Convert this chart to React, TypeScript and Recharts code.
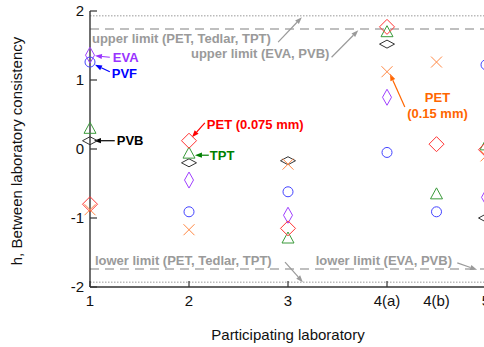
import {
  ComposedChart,
  ReferenceDot,
  ReferenceLine,
  Scatter,
  XAxis,
  YAxis,
} from "recharts";

const FONT = "'Liberation Sans', Arial, sans-serif";

// laboratories (4(a) and 4(b) share lab 4)
const LAB_TICKS = [1, 2, 3, 4, 4.5, 5];
const LAB_LABELS: Record<string, string> = {
  "1": "1",
  "2": "2",
  "3": "3",
  "4": "4(a)",
  "4.5": "4(b)",
  "5": "5",
};
const H_TICKS = [-2, -1, 0, 1, 2];

// critical h values
const LIMIT_EVA_PVB = 1.74;
const LIMIT_PET_TEDLAR_TPT = 1.93;

// h statistic per material
const EVA = [
  { lab: 1, h: 1.36 },
  { lab: 2, h: -0.45 },
  { lab: 3, h: -0.96 },
  { lab: 4, h: 0.75 },
  { lab: 5, h: -0.7 },
];
const PVF = [
  { lab: 1, h: 1.26 },
  { lab: 2, h: -0.91 },
  { lab: 3, h: -0.62 },
  { lab: 4, h: -0.05 },
  { lab: 4.5, h: -0.91 },
  { lab: 5, h: 1.22 },
];
const PVB = [
  { lab: 1, h: 0.12 },
  { lab: 2, h: -0.2 },
  { lab: 3, h: -0.17 },
  { lab: 4, h: 1.52 },
  { lab: 5, h: -1.0 },
];
const PET_075 = [
  { lab: 1, h: -0.8 },
  { lab: 2, h: 0.12 },
  { lab: 3, h: -1.15 },
  { lab: 4, h: 1.77 },
  { lab: 4.5, h: 0.07 },
  { lab: 5, h: -0.01 },
];
const TPT = [
  { lab: 1, h: 0.3 },
  { lab: 2, h: -0.06 },
  { lab: 3, h: -1.29 },
  { lab: 4, h: 1.7 },
  { lab: 4.5, h: -0.65 },
  { lab: 5, h: 0.06 },
];
const PET_015 = [
  { lab: 1, h: -0.88 },
  { lab: 2, h: -1.17 },
  { lab: 3, h: -0.22 },
  { lab: 4, h: 1.12 },
  { lab: 4.5, h: 1.26 },
  { lab: 5, h: -0.1 },
];

// text annotations: [x, y] in data units
const NOTES = [
  { text: "upper limit (PET, Tedlar, TPT)", x: 1.02, y: 1.61, color: "#9a9a9a", anchor: "start" },
  { text: "upper limit (EVA, PVB)", x: 2.02, y: 1.39, color: "#9a9a9a", anchor: "start" },
  { text: "lower limit (PET, Tedlar, TPT)", x: 1.05, y: -1.62, color: "#9a9a9a", anchor: "start" },
  { text: "lower limit (EVA, PVB)", x: 3.28, y: -1.62, color: "#9a9a9a", anchor: "start" },
  { text: "EVA", x: 1.23, y: 1.33, color: "#9933ff", anchor: "start" },
  { text: "PVF", x: 1.22, y: 1.09, color: "#0000ff", anchor: "start" },
  { text: "PVB", x: 1.27, y: 0.12, color: "#000000", anchor: "start" },
  { text: "PET (0.075 mm)", x: 2.18, y: 0.36, color: "#ff0000", anchor: "start" },
  { text: "TPT", x: 2.21, y: -0.09, color: "#007f00", anchor: "start" },
  { text: "PET", x: 4.51, y: 0.75, color: "#ff6600", anchor: "middle" },
  { text: "(0.15 mm)", x: 4.51, y: 0.52, color: "#ff6600", anchor: "middle" },
];

const ARROWS = [
  { from: [2.9, 1.55], to: [3.14, 1.91], color: "#9a9a9a" },
  { from: [3.44, 1.33], to: [3.71, 1.72], color: "#9a9a9a" },
  { from: [2.97, -1.64], to: [3.15, -1.93], color: "#9a9a9a" },
  { from: [4.71, -1.65], to: [4.91, -1.75], color: "#9a9a9a" },
  { from: [1.2, 1.33], to: [1.05, 1.35], color: "#9933ff" },
  { from: [1.2, 1.12], to: [1.05, 1.22], color: "#0000ff" },
  { from: [1.25, 0.12], to: [1.04, 0.12], color: "#000000" },
  { from: [2.16, 0.38], to: [2.03, 0.17], color: "#ff0000" },
  { from: [2.2, -0.09], to: [2.06, -0.09], color: "#007f00" },
  { from: [4.18, 0.61], to: [4.03, 1.09], color: "#ff6600" },
];

type Pt = { cx?: number; cy?: number };

function diamond(w: number, h: number, color: string) {
  return (p: Pt) => {
    if (typeof p.cx !== "number" || typeof p.cy !== "number") return <g />;
    const { cx, cy } = p;
    return (
      <polygon
        points={`${cx},${cy - h / 2} ${cx + w / 2},${cy} ${cx},${cy + h / 2} ${cx - w / 2},${cy}`}
        fill="none"
        stroke={color}
        strokeWidth={1}
      />
    );
  };
}

function circle(color: string) {
  return (p: Pt) => {
    if (typeof p.cx !== "number" || typeof p.cy !== "number") return <g />;
    return <circle cx={p.cx} cy={p.cy} r={5} fill="none" stroke={color} strokeWidth={1} />;
  };
}

function triangle(color: string) {
  return (p: Pt) => {
    if (typeof p.cx !== "number" || typeof p.cy !== "number") return <g />;
    const { cx, cy } = p;
    return (
      <polygon
        points={`${cx},${cy - 6} ${cx + 6},${cy + 5} ${cx - 6},${cy + 5}`}
        fill="none"
        stroke={color}
        strokeWidth={1}
      />
    );
  };
}

function cross(color: string) {
  return (p: Pt) => {
    if (typeof p.cx !== "number" || typeof p.cy !== "number") return <g />;
    const { cx, cy } = p;
    return (
      <path
        d={`M${cx - 5.5},${cy - 5.5}L${cx + 5.5},${cy + 5.5}M${cx + 5.5},${cy - 5.5}L${cx - 5.5},${cy + 5.5}`}
        stroke={color}
        strokeWidth={1}
      />
    );
  };
}

function arrowShape(color: string) {
  return (props: any) => {
    const { x1, y1, x2, y2 } = props;
    if ([x1, y1, x2, y2].some((v) => typeof v !== "number")) return <g />;
    const a = Math.atan2(y2 - y1, x2 - x1);
    const len = 7;
    const hw = 2.6;
    const bx = x2 - len * Math.cos(a);
    const by = y2 - len * Math.sin(a);
    const px = -Math.sin(a) * hw;
    const py = Math.cos(a) * hw;
    return (
      <g>
        <line x1={x1} y1={y1} x2={bx} y2={by} stroke={color} strokeWidth={1.2} />
        <polygon
          points={`${x2},${y2} ${bx + px},${by + py} ${bx - px},${by - py}`}
          fill={color}
        />
      </g>
    );
  };
}

function BottomTick(props: any) {
  const { x, y, payload } = props;
  const v = payload.value;
  const axisY = y - 8;
  return (
    <g>
      {Number.isInteger(v) ? (
        <line x1={x} x2={x} y1={axisY} y2={axisY - 6} stroke="#333" strokeWidth={1.2} />
      ) : null}
      <text x={x} y={y} dy="0.72em" textAnchor="middle" fontSize={15} fontFamily={FONT} fill="#111">
        {LAB_LABELS[String(v)]}
      </text>
    </g>
  );
}

function TopTick(props: any) {
  const { x, y } = props;
  return <line x1={x} x2={x} y1={y} y2={y + 6} stroke="#333" strokeWidth={1.2} />;
}

function LeftTick(props: any) {
  const { x, y, payload } = props;
  const axisX = x + 6;
  return (
    <g>
      <line x1={axisX} x2={axisX + 7} y1={y} y2={y} stroke="#333" strokeWidth={1.2} />
      <text x={x} y={y} dy="0.36em" textAnchor="end" fontSize={15} fontFamily={FONT} fill="#111">
        {payload.value}
      </text>
    </g>
  );
}

function RightTick(props: any) {
  const { x, y } = props;
  return <line x1={x} x2={x - 7} y1={y} y2={y} stroke="#333" strokeWidth={1.2} />;
}

export default function App() {
  return (
    <div
      style={{
        position: "absolute",
        left: 0,
        top: 0,
        width: 484,
        height: 347,
        overflow: "hidden",
        background: "#fff",
      }}
    >
      <ComposedChart
        width={500}
        height={347}
        margin={{ top: 11, right: 14, bottom: 0, left: 0 }}
        style={{ fontFamily: FONT }}
      >
        <XAxis
          dataKey="lab"
          type="number"
          domain={[1, 5]}
          ticks={LAB_TICKS}
          height={60}
          interval={0}
          tickSize={0}
          tickMargin={8}
          tickLine={false}
          tick={<BottomTick />}
          axisLine={{ stroke: "#333", strokeWidth: 1.4 }}
          label={{
            content: (p: any) => {
              const vb = p.viewBox;
              return (
                <text
                  x={vb.x + vb.width / 2}
                  y={vb.y + 53}
                  textAnchor="middle"
                  fontSize={15}
                  fontFamily={FONT}
                  fill="#111"
                >
                  Participating laboratory
                </text>
              );
            },
          }}
        />
        <XAxis
          xAxisId="top"
          orientation="top"
          dataKey="lab"
          type="number"
          domain={[1, 5]}
          ticks={[1, 2, 3, 4, 5]}
          height={0}
          tickSize={0}
          tickMargin={0}
          tickLine={false}
          tick={<TopTick />}
          axisLine={{ stroke: "#333", strokeWidth: 1.4 }}
        />
        <YAxis
          dataKey="h"
          type="number"
          domain={[-2, 2]}
          ticks={H_TICKS}
          width={90}
          tickSize={0}
          tickMargin={6}
          tickLine={false}
          tick={<LeftTick />}
          axisLine={{ stroke: "#333", strokeWidth: 1.4 }}
          label={{
            content: (p: any) => {
              const vb = p.viewBox;
              const cx = 22;
              const cy = vb.y + vb.height / 2 + 2;
              return (
                <text
                  x={cx}
                  y={cy}
                  transform={`rotate(-90, ${cx}, ${cy})`}
                  textAnchor="middle"
                  fontSize={15}
                  fontFamily={FONT}
                  fill="#111"
                >
                  h, Between laboratory consistency
                </text>
              );
            },
          }}
        />
        <YAxis
          yAxisId="right"
          orientation="right"
          type="number"
          domain={[-2, 2]}
          ticks={[-1, 0, 1]}
          width={0}
          tickSize={0}
          tickMargin={0}
          tickLine={false}
          tick={<RightTick />}
          axisLine={{ stroke: "#333", strokeWidth: 1.4 }}
        />

        <ReferenceLine y={LIMIT_PET_TEDLAR_TPT} stroke="#999" strokeWidth={1} strokeDasharray="1.5 1.5" />
        <ReferenceLine y={-LIMIT_PET_TEDLAR_TPT} stroke="#999" strokeWidth={1} strokeDasharray="1.5 1.5" />
        <ReferenceLine y={LIMIT_EVA_PVB} stroke="#aaa" strokeWidth={1.5} strokeDasharray="9 6" />
        <ReferenceLine y={-LIMIT_EVA_PVB} stroke="#aaa" strokeWidth={1.5} strokeDasharray="9 6" />

        <Scatter data={PVB} dataKey="h" isAnimationActive={false} shape={diamond(15, 8, "#333")} />
        <Scatter data={PVF} dataKey="h" isAnimationActive={false} shape={circle("#4444ff")} />
        <Scatter data={EVA} dataKey="h" isAnimationActive={false} shape={diamond(9, 16, "#a040ff")} />
        <Scatter data={TPT} dataKey="h" isAnimationActive={false} shape={triangle("#3a9a3a")} />
        <Scatter data={PET_075} dataKey="h" isAnimationActive={false} shape={diamond(15, 15, "#ff3333")} />
        <Scatter data={PET_015} dataKey="h" isAnimationActive={false} shape={cross("#ff8844")} />

        {ARROWS.map((a, i) => (
          <ReferenceLine
            key={`arrow-${i}`}
            segment={[
              { x: a.from[0], y: a.from[1] },
              { x: a.to[0], y: a.to[1] },
            ]}
            ifOverflow="visible"
            shape={arrowShape(a.color)}
          />
        ))}

        {NOTES.map((n, i) => (
          <ReferenceDot
            key={`note-${i}`}
            x={n.x}
            y={n.y}
            r={0}
            fill="none"
            stroke="none"
            ifOverflow="visible"
            shape={(p: Pt) => {
              if (typeof p.cx !== "number" || typeof p.cy !== "number") return <g />;
              return (
                <text
                  x={p.cx}
                  y={p.cy}
                  dy="0.36em"
                  textAnchor={n.anchor as any}
                  fontSize={13}
                  fontWeight="bold"
                  fontFamily={FONT}
                  fill={n.color}
                >
                  {n.text}
                </text>
              );
            }}
          />
        ))}
      </ComposedChart>
    </div>
  );
}
